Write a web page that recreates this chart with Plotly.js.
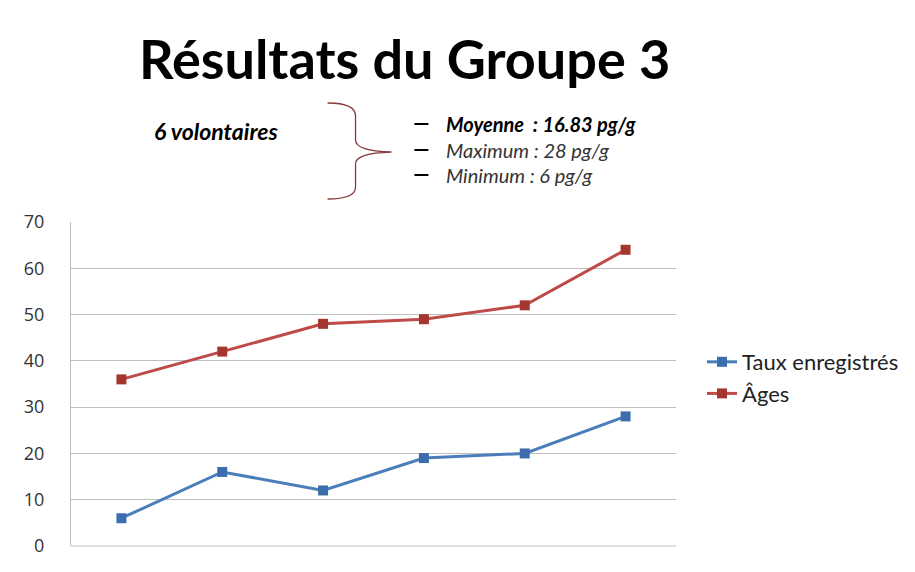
<!DOCTYPE html>
<html><head><meta charset="utf-8">
<script src="https://cdn.plot.ly/plotly-3.0.1.min.js"></script>
<style>body{margin:0;background:#fff}#c{width:915px;height:572px}</style>
</head><body><div id="c"></div>
<script>
const categories = ["1","2","3","4","5","6"];
const taux = [6, 16, 12, 19, 20, 28];
const ages = [36, 42, 48, 49, 52, 64];
const seriesNames = ["Taux enregistrés", "Âges"];
const yTicks = [0,10,20,30,40,50,60,70];

const W=915,H=572,L=71,R=238,T=222,B=26;
const pw=W-L-R, ph=H-T-B;
const px=x=>(x-L)/pw, py=y=>(H-B-y)/ph;
const P=(x,y)=>px(x).toFixed(4)+","+py(y).toFixed(4);
const brace="M"+P(328,103)+" Q"+P(356,103)+" "+P(356,116)+" L"+P(356,140)+" Q"+P(356,151)+" "+P(392,152)+" Q"+P(356,153)+" "+P(356,164)+" L"+P(356,187)+" Q"+P(356,199)+" "+P(328,199);

const F="Lato, 'Open Sans', sans-serif";
const traces=[
 {x:categories,y:taux,name:seriesNames[0],type:"scatter",mode:"lines+markers",
  line:{color:"#4A7EBB",width:3},marker:{symbol:"square",size:10,color:"#3C6DAD"}},
 {x:categories,y:ages,name:seriesNames[1],type:"scatter",mode:"lines+markers",
  line:{color:"#BE4B48",width:3},marker:{symbol:"square",size:10,color:"#A5362F"}}
];
const ann=(x,y,text,size,opts)=>Object.assign({xref:"paper",yref:"paper",x:px(x),y:py(y),text:text,showarrow:false,
  font:{family:F,size:size,color:"#000"},xanchor:"left",yanchor:"middle"},opts||{});
const dash=y=>({type:"line",xref:"paper",yref:"paper",x0:px(415),x1:px(429),y0:py(y),y1:py(y),line:{color:"#000",width:2}});
const layout={
 width:W,height:H,margin:{l:L,r:R,t:T,b:B},paper_bgcolor:"#fff",plot_bgcolor:"#fff",
 showlegend:true,
 legend:{x:px(702),y:py(378),xanchor:"left",yanchor:"middle",font:{family:F,size:22,color:"#222"},tracegroupgap:0,itemwidth:30},
 xaxis:{type:"category",showticklabels:false,showgrid:false,zeroline:false,showline:false,ticks:"",range:[-0.5,5.5]},
 yaxis:{range:[0,70],tickvals:yTicks,showgrid:true,gridcolor:"#BFBFBF",gridwidth:1,zeroline:false,
  showline:true,linecolor:"#BFBFBF",linewidth:1,ticks:"",ticklabelstandoff:22,
  tickfont:{family:"'Open Sans', sans-serif",size:18,color:"#333"}},
 shapes:[
  {type:"path",xref:"paper",yref:"paper",path:brace,line:{color:"#8B3A3A",width:1.3}},
  {type:"line",xref:"paper",yref:"paper",x0:0,x1:1,y0:0,y1:0,line:{color:"#BFBFBF",width:1}},
  dash(124),dash(150),dash(175)
 ],
 annotations:[
  ann(405,58,"<b>Résultats du Groupe 3</b>",54,{xanchor:"center"}),
  ann(152,131,"<b><i>6 volontaires</i></b>",23),
  ann(445,124,"<b><i>Moyenne  : 16.83 pg/g</i></b>",20),
  ann(445,150,"<i>Maximum : 28 pg/g</i>",20,{font:{family:F,size:20,color:"#333"}}),
  ann(445,175,"<i>Minimum : 6 pg/g</i>",20,{font:{family:F,size:20,color:"#333"}})
 ]
};
Plotly.newPlot("c",traces,layout,{displayModeBar:false,staticPlot:true});
</script></body></html>
